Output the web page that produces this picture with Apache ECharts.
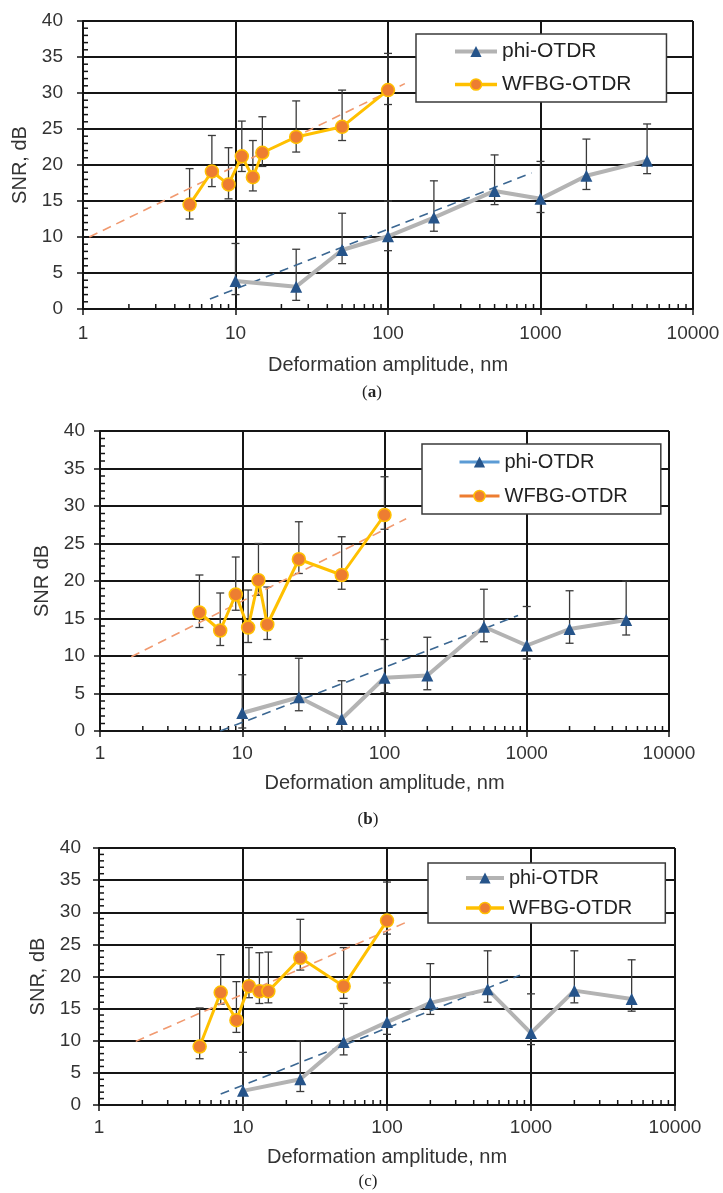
<!DOCTYPE html>
<html>
<head>
<meta charset="utf-8">
<script src="https://cdn.jsdelivr.net/npm/echarts@6/dist/echarts.min.js"></script>
<style>
html, body { margin: 0; padding: 0; background: #fff; }
#chart { width: 723px; height: 1193px; }
</style>
</head>
<body>
<div id="chart"></div>
<script>
// x positions of the measurements
var wfbgX = [5, 7, 9, 11, 13, 15, 25, 50, 100];
var phiX = [10, 25, 50, 100, 200, 500, 1000, 2000, 5000];

// panel (a)
var wfbgA = [14.5, 19.1, 17.3, 21.2, 18.3, 21.7, 23.9, 25.3, 30.4];
var wfbgAHi = [19.5, 24.1, 22.4, 26.1, 23.4, 26.7, 28.9, 30.4, 35.5];
var wfbgALo = [12.5, 17.0, 15.3, 19.1, 16.4, 19.8, 21.8, 23.4, 28.4];
var phiA = [3.9, 3.1, 8.2, 10.1, 12.7, 16.4, 15.3, 18.5, 20.6];
var phiAHi = [9.1, 8.3, 13.3, 15.0, 17.8, 21.4, 20.5, 23.6, 25.7];
var phiALo = [2.0, 1.2, 6.3, 8.1, 10.8, 14.5, 13.4, 16.6, 18.8];
var trendWfbgA = [[1.1, 10.0], [129, 31.3]];
var trendPhiA = [[6.8, 1.4], [874, 18.9]];

// panel (b)
var wfbgB = [15.8, 13.4, 18.2, 13.8, 20.1, 14.2, 22.9, 20.8, 28.8];
var wfbgBHi = [20.8, 18.4, 23.2, 18.8, 25.0, 19.2, 27.9, 25.9, 33.9];
var wfbgBLo = [13.8, 11.4, 16.1, 11.8, 18.1, 12.2, 21.0, 18.9, 26.9];
var phiB = [2.4, 4.5, 1.6, 7.1, 7.4, 13.9, 11.4, 13.6, 14.8];
var phiBHi = [7.5, 9.7, 6.7, 12.2, 12.5, 18.9, 16.6, 18.7, 20.0];
var phiBLo = [0.4, 2.7, -0.4, 5.1, 5.5, 11.9, 9.6, 11.7, 12.8];
var trendWfbgB = [[1.66, 9.9], [142, 28.3]];
var trendPhiB = [[7.0, 0.0], [869, 15.4]];

// panel (c)
var wfbgC = [9.1, 17.5, 13.2, 18.5, 17.7, 17.7, 22.9, 18.5, 28.7];
var wfbgCHi = [15.1, 23.4, 19.2, 24.5, 23.7, 23.8, 28.9, 24.5, 34.7];
var wfbgCLo = [7.2, 15.7, 11.3, 16.7, 15.8, 15.9, 21.0, 16.6, 26.6];
var phiC = [2.2, 4.0, 9.8, 12.9, 15.9, 18.0, 11.2, 17.8, 16.5];
var phiCHi = [8.2, 10.0, 15.8, 19.0, 22.0, 24.0, 17.3, 24.0, 22.6];
var phiCLo = [0.0, 2.1, 7.8, 11.0, 14.1, 16.0, 9.4, 15.9, 14.6];
var trendWfbgC = [[1.8, 9.9], [141, 28.6]];
var trendPhiC = [[7.0, 1.7], [838, 20.2]];

// axis ticks
var xTicks = [1, 10, 100, 1000, 10000];
var xMinorTicks = [2, 3, 4, 5, 6, 7, 8, 9, 20, 30, 40, 50, 60, 70, 80, 90,
    200, 300, 400, 500, 600, 700, 800, 900, 2000, 3000, 4000, 5000, 6000, 7000, 8000, 9000];
var yMinorTicks = [1, 2, 3, 4, 6, 7, 8, 9, 11, 12, 13, 14, 16, 17, 18, 19, 21, 22, 23, 24,
    26, 27, 28, 29, 31, 32, 33, 34, 36, 37, 38, 39];

var FONT = '"Liberation Sans", Arial, sans-serif';
var GRID_LINE = '#151515';

function pairs(xs, ys) {
    return xs.map(function (x, i) { return [x, ys[i]]; });
}
function triples(xs, lo, hi) {
    return xs.map(function (x, i) { return [x, lo[i], hi[i]]; });
}

function errItem(params, api) {
    var x = api.value(0);
    var p0 = api.coord([x, api.value(1)]);
    var p1 = api.coord([x, api.value(2)]);
    var w = 4;
    var st = { stroke: '#3a3a3a', lineWidth: 1.3 };
    return {
        type: 'group',
        children: [
            { type: 'line', shape: { x1: p0[0], y1: p0[1], x2: p1[0], y2: p1[1] }, style: st },
            { type: 'line', shape: { x1: p0[0] - w, y1: p0[1], x2: p0[0] + w, y2: p0[1] }, style: st },
            { type: 'line', shape: { x1: p1[0] - w, y1: p1[1], x2: p1[0] + w, y2: p1[1] }, style: st }
        ]
    };
}
function minorXItem(params, api) {
    var p = api.coord([api.value(0), api.value(1)]);
    return { type: 'line', shape: { x1: p[0], y1: p[1], x2: p[0], y2: p[1] - 5 },
        style: { stroke: GRID_LINE, lineWidth: 1.5 } };
}
function minorYItem(params, api) {
    var p = api.coord([api.value(0), api.value(1)]);
    return { type: 'line', shape: { x1: p[0], y1: p[1], x2: p[0] + 5, y2: p[1] },
        style: { stroke: GRID_LINE, lineWidth: 1.5 } };
}

function makeXAxis(i, nameGap, labelMargin) {
    return {
        type: 'log', logBase: 10, gridIndex: i, min: 1, max: 10000,
        name: 'Deformation amplitude, nm', nameLocation: 'middle', nameGap: nameGap,
        nameTextStyle: { fontFamily: FONT, fontSize: 20, color: '#333' },
        axisLine: { onZero: false, lineStyle: { color: GRID_LINE, width: 2 } },
        axisTick: { show: true, inside: false, length: 6, lineStyle: { color: GRID_LINE, width: 1.5 } },
        axisLabel: { fontFamily: FONT, fontSize: 19, color: '#333', margin: labelMargin,
            formatter: function (v) { return xTicks.indexOf(v) >= 0 ? String(v) : ''; } },
        splitLine: { show: true, lineStyle: { color: GRID_LINE, width: 2 } },
        minorTick: { show: false }
    };
}
function makeYAxis(i, name, nameGap, labelMargin) {
    return {
        type: 'value', gridIndex: i, min: 0, max: 40, interval: 5,
        name: name, nameLocation: 'middle', nameGap: nameGap,
        nameTextStyle: { fontFamily: FONT, fontSize: 20, color: '#333' },
        axisLine: { show: true, lineStyle: { color: GRID_LINE, width: 2 } },
        axisTick: { show: true, inside: false, length: 6, lineStyle: { color: GRID_LINE, width: 1.5 } },
        axisLabel: { fontFamily: FONT, fontSize: 19, color: '#333', margin: labelMargin },
        splitLine: { show: true, lineStyle: { color: GRID_LINE, width: 2 } }
    };
}

function makeLegend(i, left, top, padding, itemWidth, fontSize, lineHeight, itemGap, data) {
    return {
        show: true, orient: 'vertical', left: left, top: top, padding: padding,
        itemWidth: itemWidth, itemHeight: 14, itemGap: itemGap,
        backgroundColor: '#fff', borderColor: '#3a3a3a', borderWidth: 1.5, borderRadius: 0,
        selectedMode: false, z: 20,
        textStyle: { fontFamily: FONT, fontSize: fontSize, lineHeight: lineHeight, color: '#222' },
        data: data
    };
}

function panelSeries(i, d) {
    return [
        { type: 'custom', xAxisIndex: i, yAxisIndex: i, renderItem: minorXItem, silent: true, clip: false, z: 3,
            data: xMinorTicks.map(function (v) { return [v, 0]; }) },
        { type: 'custom', xAxisIndex: i, yAxisIndex: i, renderItem: minorYItem, silent: true, clip: false, z: 3,
            data: yMinorTicks.map(function (v) { return [1, v]; }) },
        { type: 'custom', xAxisIndex: i, yAxisIndex: i, renderItem: errItem, silent: true, clip: true, z: 4,
            encode: { x: 0, y: [1, 2] }, data: triples(wfbgX, d.wLo, d.wHi) },
        { type: 'custom', xAxisIndex: i, yAxisIndex: i, renderItem: errItem, silent: true, clip: true, z: 4,
            encode: { x: 0, y: [1, 2] }, data: triples(phiX, d.pLo, d.pHi) },
        { type: 'line', xAxisIndex: i, yAxisIndex: i, data: d.tW, symbol: 'none', silent: true, z: 5,
            lineStyle: { color: '#f19a70', width: 1.6, type: [9, 6] } },
        { type: 'line', xAxisIndex: i, yAxisIndex: i, data: d.tP, symbol: 'none', silent: true, z: 5,
            lineStyle: { color: '#3b6792', width: 1.6, type: [9, 6] } },
        { name: 'phi-OTDR', type: 'line', xAxisIndex: i, yAxisIndex: i, data: pairs(phiX, d.p),
            symbol: 'triangle', symbolSize: 12, z: 6, clip: false,
            lineStyle: { color: '#b3b3b3', width: 4 },
            itemStyle: { color: '#26548a' } },
        { name: 'WFBG-OTDR', type: 'line', xAxisIndex: i, yAxisIndex: i, data: pairs(wfbgX, d.w),
            symbol: 'circle', symbolSize: 13, z: 7, clip: false,
            lineStyle: { color: '#ffc000', width: 3 },
            itemStyle: { color: '#ed7d31', borderColor: '#ffc000', borderWidth: 1.5 } }
    ];
}

var series = [].concat(
    panelSeries(0, { w: wfbgA, wHi: wfbgAHi, wLo: wfbgALo, p: phiA, pHi: phiAHi, pLo: phiALo, tW: trendWfbgA, tP: trendPhiA }),
    panelSeries(1, { w: wfbgB, wHi: wfbgBHi, wLo: wfbgBLo, p: phiB, pHi: phiBHi, pLo: phiBLo, tW: trendWfbgB, tP: trendPhiB }),
    panelSeries(2, { w: wfbgC, wHi: wfbgCHi, wLo: wfbgCLo, p: phiC, pHi: phiCHi, pLo: phiCLo, tW: trendWfbgC, tP: trendPhiC })
);

// legend entries as drawn in panels (a) and (c)
var legendGrey = [
    { name: 'phi-OTDR', lineStyle: { color: '#b3b3b3', width: 4 }, itemStyle: { color: '#26548a' } },
    { name: 'WFBG-OTDR', lineStyle: { color: '#ffc000', width: 3.5 }, itemStyle: { color: '#ed7d31', borderColor: '#ffc000', borderWidth: 1.5 } }
];
// panel (b) uses the blue/orange legend styling
var legendBlue = [
    { name: 'phi-OTDR', lineStyle: { color: '#5b9bd5', width: 3 }, itemStyle: { color: '#26548a' } },
    { name: 'WFBG-OTDR', lineStyle: { color: '#ed7d31', width: 3 }, itemStyle: { color: '#ed7d31', borderColor: '#ffc000', borderWidth: 1.5 } }
];

function caption(x, y, letter, bold) {
    return {
        type: 'text', x: x, y: y, z: 30,
        style: {
            text: '(' + (bold ? '{b|' + letter + '}' : letter) + ')',
            fontFamily: '"Liberation Serif", "Times New Roman", serif', fontSize: 17, fill: '#222',
            align: 'center', verticalAlign: 'middle',
            rich: { b: { fontFamily: '"Liberation Serif", "Times New Roman", serif', fontSize: 17, fontWeight: 'bold', color: '#222' } }
        }
    };
}

var chart = echarts.init(document.getElementById('chart'), null, { renderer: 'canvas' });
chart.setOption({
    animation: false,
    backgroundColor: '#fff',
    grid: [
        { left: 83, top: 21, width: 610, height: 288 },
        { left: 100, top: 431, width: 569, height: 300 },
        { left: 99, top: 848, width: 576, height: 257 }
    ],
    xAxis: [makeXAxis(0, 46, 15), makeXAxis(1, 42, 13), makeXAxis(2, 42, 13)],
    yAxis: [makeYAxis(0, 'SNR, dB', 48, 20), makeYAxis(1, 'SNR dB', 44, 15), makeYAxis(2, 'SNR, dB', 48, 18)],
    legend: [
        makeLegend(0, 416, 34, [7, 35, 7, 37], 42, 21, 21, 12, legendGrey),
        makeLegend(1, 422, 444, [8, 33, 8, 36], 40, 20, 20, 14, legendBlue),
        makeLegend(2, 428, 863, [5, 33, 5, 36], 38, 20, 20, 10, legendGrey)
    ],
    graphic: [
        caption(372, 393, 'a', true),
        caption(368, 820, 'b', true),
        caption(368, 1182, 'c', false)
    ],
    series: series
});
</script>
</body>
</html>
